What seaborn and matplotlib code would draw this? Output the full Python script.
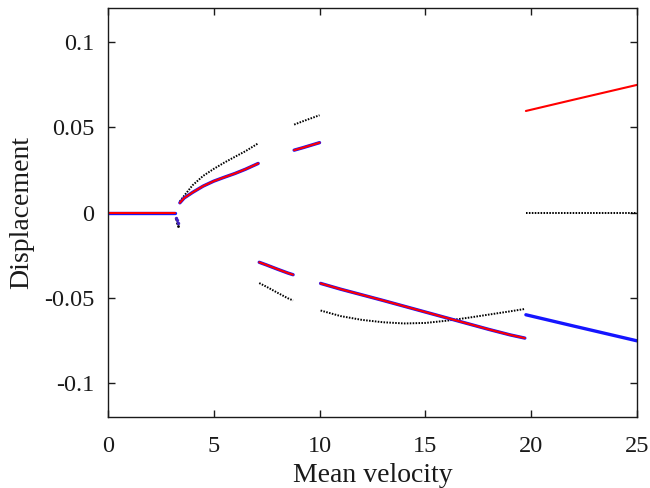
import numpy as np
import pandas as pd
import matplotlib
matplotlib.use("Agg")
import matplotlib.pyplot as plt
import seaborn as sns

# -----------------------------
# Data
# -----------------------------
# flat branch (all series at zero)
v_flat = [0.0, 1.0, 2.0, 3.17]
d_flat = [0.0, 0.0, 0.0, 0.0]

# small dip just before the first branch
v_dip = [3.20, 3.25, 3.30]
dip_col = [-0.0030, -0.0045, -0.0060]
dip_blk = [-0.0040, -0.0060, -0.0080]

# branch 1 (positive)
v_b1 = [3.4, 3.6, 4.0, 4.5, 5.0, 5.5, 6.0, 6.5, 7.1]
col_b1 = [0.0057, 0.0085, 0.0118, 0.0155, 0.0184, 0.0207, 0.0229, 0.0254, 0.0288]
blk_b1 = [0.0065, 0.0098, 0.0160, 0.0215, 0.0256, 0.0293, 0.0327, 0.0360, 0.0406]

# branch 2 (negative)
v_b2 = [7.15, 7.5, 8.0, 8.5, 8.75]
col_b2 = [-0.0292, -0.0308, -0.0332, -0.0355, -0.0365]
blk_b2 = [-0.0414, -0.0436, -0.0470, -0.0503, -0.0516]

# branch 3 (positive)
v_b3 = [8.8, 9.2, 9.6, 10.0]
col_b3 = [0.0366, 0.0380, 0.0395, 0.0410]
blk_b3 = [0.0516, 0.0535, 0.0553, 0.0571]

# branch 4 (negative)
v_b4 = [10.05, 11, 12, 13, 14, 15, 16, 17, 18, 19, 19.7]
col_b4 = [-0.0416, -0.0450, -0.0483, -0.0516, -0.0550, -0.0584,
          -0.0618, -0.0652, -0.0686, -0.0718, -0.0737]
blk_b4 = [-0.0575, -0.0608, -0.0630, -0.0644, -0.0651, -0.0648,
          -0.0635, -0.0618, -0.0599, -0.0580, -0.0566]

# branch 5 (oscillation: max / min / centre)
v_b5 = [19.75, 22.0, 25.0]
red_b5 = [0.0596, 0.0662, 0.0749]
blue_b5 = [-0.0600, -0.0666, -0.0753]
blk_b5 = [0.0, 0.0, 0.0]

x_ticks = [0, 5, 10, 15, 20, 25]
y_ticks = [-0.1, -0.05, 0, 0.05, 0.1]
y_tick_labels = ["-0.1", "-0.05", "0", "0.05", "0.1"]


def segments(pairs):
    rows = []
    for k, (xs, ys) in enumerate(pairs):
        for x, y in zip(xs, ys):
            rows.append({"seg": k, "v": x, "d": y})
    return pd.DataFrame(rows)


df_blue = segments([(v_flat, d_flat), (v_b1, col_b1), (v_b2, col_b2),
                    (v_b3, col_b3), (v_b4, col_b4), (v_b5, blue_b5)])
df_red = segments([(v_flat, d_flat), (v_b1, col_b1), (v_b2, col_b2),
                   (v_b3, col_b3), (v_b4, col_b4), (v_b5, red_b5)])
df_blk = segments([(v_flat, d_flat), (v_b1, blk_b1), (v_b2, blk_b2),
                   (v_b3, blk_b3), (v_b4, blk_b4), (v_b5, blk_b5)])

# -----------------------------
# Plot
# -----------------------------
sns.set_style("ticks")
plt.rcParams["font.family"] = ["Liberation Serif", "DejaVu Serif"]
plt.rcParams["axes.unicode_minus"] = False

fig = plt.figure(figsize=(6.5, 4.88), dpi=100)
ax = fig.add_axes([0.166, 0.1455, 0.814, 0.838])

sns.lineplot(data=df_blk, x="v", y="d", units="seg", estimator=None,
             color="black", lw=1.4, linestyle=(0, (0.8, 0.7)), ax=ax)
sns.lineplot(data=df_blue, x="v", y="d", units="seg", estimator=None,
             color="#1515ff", lw=2.4, ax=ax)
sns.lineplot(data=df_red, x="v", y="d", units="seg", estimator=None,
             color="#ff0000", lw=1.5, ax=ax)

sns.scatterplot(x=v_dip, y=dip_blk, color="black", s=4, linewidth=0, ax=ax)
sns.scatterplot(x=v_dip, y=dip_col, color="#4020c0", s=6, linewidth=0, ax=ax)

ax.set_xlim(0, 25)
ax.set_ylim(-0.12, 0.12)
ax.set_xticks(x_ticks)
ax.set_yticks(y_ticks)
ax.set_yticklabels(y_tick_labels)
ax.tick_params(direction="in", length=5, width=1, top=True, right=True,
               labelsize=17.5, colors="#1a1a1a")
ax.tick_params(axis="y", pad=10)
ax.tick_params(axis="x", pad=14)
for s in ax.spines.values():
    s.set_visible(True)
    s.set_linewidth(1.0)
    s.set_color("#1a1a1a")

ax.set_xlabel("Mean velocity", fontsize=20, color="#1a1a1a")
ax.set_ylabel("Displacement", fontsize=20, color="#1a1a1a")
ax.xaxis.set_label_coords(0.5, -0.112)
ax.xaxis.label.set_va("top")
ax.yaxis.set_label_coords(-0.14, 0.5)

fig.savefig("out.png", dpi=100)
plt.close(fig)
